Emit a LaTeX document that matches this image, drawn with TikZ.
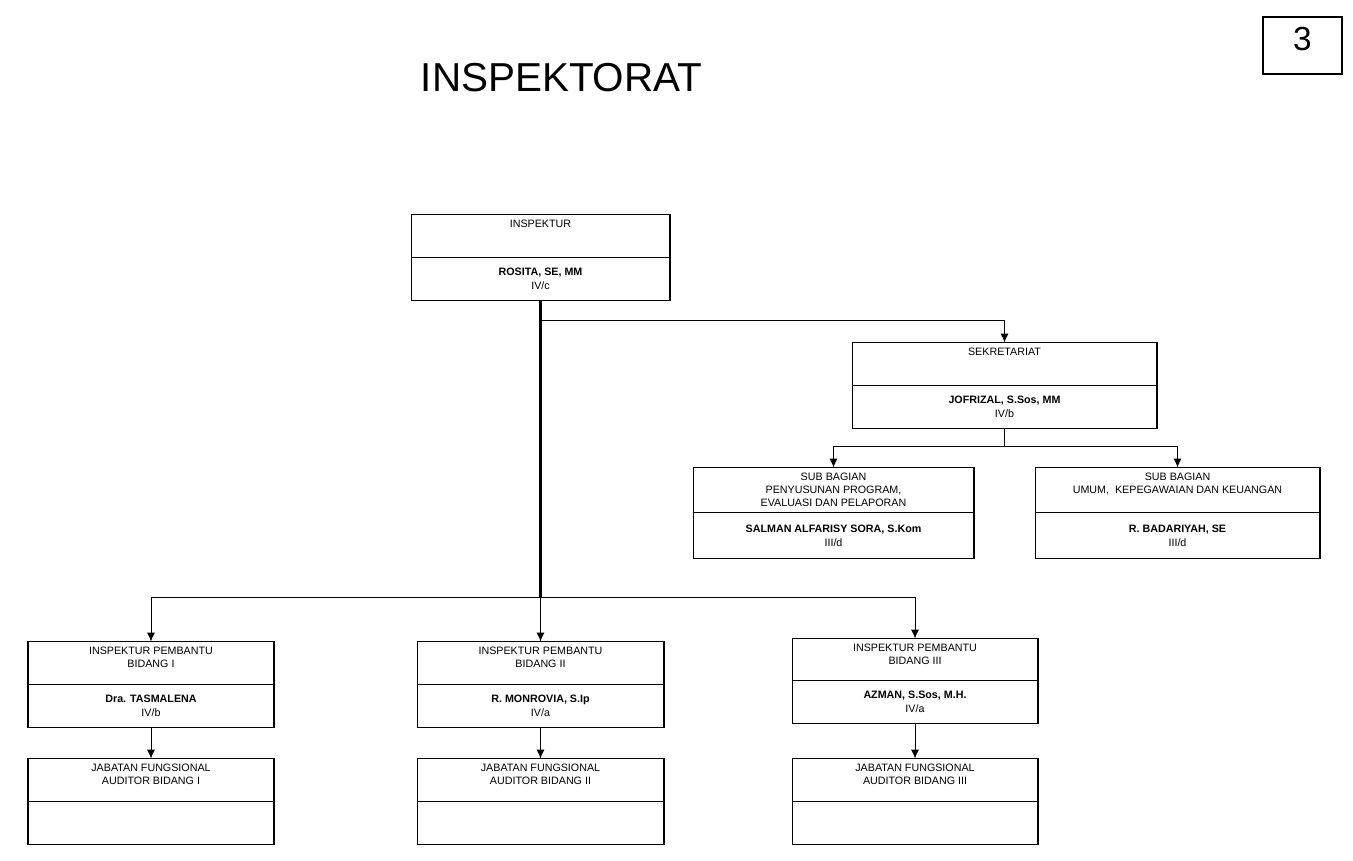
\documentclass[tikz,border=0pt]{standalone}
\usepackage{fontspec}
\setmainfont{Liberation Sans}
\usetikzlibrary{arrows.meta,positioning}

\begin{document}
\begin{tikzpicture}[x=0.02cm, y=-0.02cm, >={Latex[length=5pt,width=4.5pt]},
  every node/.style={font=\fontsize{6.1}{7.5}\selectfont},
  box/.style={draw, line width=0.6pt, outer sep=0pt, inner sep=0pt, align=center, minimum height=0.86cm},
  head/.style={box, anchor=north, label={[anchor=north, yshift=-0.1cm, align=center, inner sep=0pt]north:{#1}}},
  post/.style={box, below=0pt of #1, font=\fontsize{6.1}{8}\selectfont},
  link/.style={line width=0.55pt}]
  \useasboundingbox (0,0) rectangle (1353,860);

  % title and page number
  \node[font=\fontsize{23}{27}\selectfont] (judul) at (561.5,77.5) {INSPEKTORAT};
  \node[draw, line width=0.6pt, minimum width=1.58cm, minimum height=1.14cm] (nomor) at (1302.5,45.5) {};
  \node[font=\fontsize{19}{22}\selectfont] (nomor-t) at (1302.5,39) {3};

  % inspektur
  \node[head={INSPEKTUR}, minimum width=5.18cm] (insp) at (540.5,214.5) {};
  \node[post=insp, minimum width=5.18cm] (insp-n) {\textbf{ROSITA, SE, MM}\\IV/c};

  % sekretariat
  \node[head={SEKRETARIAT}, minimum width=6.1cm] (sekr) at (1004.5,342.5) {};
  \node[post=sekr, minimum width=6.1cm] (sekr-n) {\textbf{JOFRIZAL, S.Sos, MM}\\IV/b};

  % sub bagian
  \node[head={SUB BAGIAN\\PENYUSUNAN PROGRAM,\\EVALUASI DAN PELAPORAN}, minimum width=5.62cm, minimum height=0.9cm] (sub1) at (833.5,467.5) {};
  \node[post=sub1, minimum width=5.62cm, minimum height=0.92cm] (sub1-n) {\textbf{SALMAN ALFARISY SORA, S.Kom}\\III/d};
  \node[head={SUB BAGIAN\\UMUM,\ \ KEPEGAWAIAN DAN KEUANGAN}, minimum width=5.7cm, minimum height=0.9cm] (sub2) at (1177.5,467.5) {};
  \node[post=sub2, minimum width=5.7cm, minimum height=0.92cm] (sub2-n) {\textbf{R. BADARIYAH, SE}\\III/d};

  % inspektur pembantu
  \node[head={INSPEKTUR PEMBANTU\\BIDANG I}, minimum width=4.92cm] (ip1) at (151,641.5) {};
  \node[post=ip1, minimum width=4.92cm] (ip1-n) {\textbf{Dra. TASMALENA}\\IV/b};
  \node[head={INSPEKTUR PEMBANTU\\BIDANG II}, minimum width=4.94cm] (ip2) at (540.5,641.5) {};
  \node[post=ip2, minimum width=4.94cm] (ip2-n) {\textbf{R. MONROVIA, S.Ip}\\IV/a};
  \node[head={INSPEKTUR PEMBANTU\\BIDANG III}, minimum width=4.92cm, minimum height=0.84cm] (ip3) at (915,638.5) {};
  \node[post=ip3, minimum width=4.92cm] (ip3-n) {\textbf{AZMAN, S.Sos, M.H.}\\IV/a};

  % jabatan fungsional
  \node[head={JABATAN FUNGSIONAL\\AUDITOR BIDANG I}, minimum width=4.92cm] (jf1) at (151,758.5) {};
  \node[post=jf1, minimum width=4.92cm] (jf1-n) {};
  \node[head={JABATAN FUNGSIONAL\\AUDITOR BIDANG II}, minimum width=4.94cm] (jf2) at (540.5,758.5) {};
  \node[post=jf2, minimum width=4.94cm] (jf2-n) {};
  \node[head={JABATAN FUNGSIONAL\\AUDITOR BIDANG III}, minimum width=4.92cm] (jf3) at (915,758.5) {};
  \node[post=jf3, minimum width=4.92cm] (jf3-n) {};

  % connectors
  \coordinate (sek-j) at (540.5,320.5);
  \coordinate (bus) at (540.5,597.5);
  \coordinate (sub-j) at (1004.5,446.5);
  \draw[line width=1.2pt] (insp-n) -- (bus);
  \draw[link,->] (sek-j) -| (sekr);
  \draw[link] (sekr-n) -- (sub-j);
  \draw[link,->] (sub-j) -| (sub1);
  \draw[link,->] (sub-j) -| (sub2);
  \draw[link,->] (bus) -| (ip1);
  \draw[link,->] (bus) -- (ip2);
  \draw[link,->] (bus) -| (ip3);
  \draw[link,->] (ip1-n) -- (jf1);
  \draw[link,->] (ip2-n) -- (jf2);
  \draw[link,->] (ip3-n) -- (jf3);
\end{tikzpicture}
\end{document}
